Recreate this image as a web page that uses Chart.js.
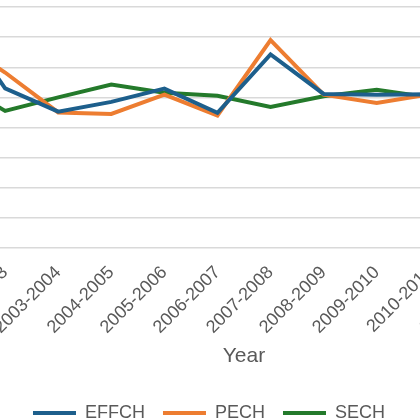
<!DOCTYPE html>
<html>
<head>
<meta charset="utf-8">
<script src="https://cdn.jsdelivr.net/npm/chart.js@4.4.1/dist/chart.umd.min.js"></script>
<style>
    html, body { margin: 0; padding: 0; background: #ffffff; }
    #frame { position: relative; width: 420px; height: 420px; overflow: hidden; }
    #holder { position: absolute; left: -160px; top: 0; width: 733px; height: 432px; }
</style>
</head>
<body>
<div id="frame">
    <div id="holder"><canvas id="malmquist" width="733" height="432"></canvas></div>
</div>
<script>
// Chart data
const years = ['2001-2002', '2002-2003', '2003-2004', '2004-2005', '2005-2006', '2006-2007',
    '2007-2008', '2008-2009', '2009-2010', '2010-2011', '2011-2012', '2012-2013'];
const effch = [1.57, 1.06, 0.905, 0.97, 1.058, 0.898, 1.285, 1.023, 1.018, 1.02, 0.99, 1.00];
const pech = [1.40, 1.165, 0.90, 0.89, 1.018, 0.88, 1.38, 1.018, 0.963, 1.02, 0.98, 1.01];
const sech = [1.12, 0.91, 1.00, 1.085, 1.031, 1.011, 0.936, 1.007, 1.051, 1.00, 1.01, 0.99];

const textGrey = '#595959';
const fontName = "'Liberation Sans', Arial, sans-serif";

function series(label, values, colour) {
    return {
        label: label,
        data: values,
        borderColor: colour,
        backgroundColor: colour,
        borderWidth: 4,
        borderCapStyle: 'round',
        pointRadius: 0,
        pointHoverRadius: 0,
        tension: 0,
        fill: false
    };
}

const ctx = document.getElementById('malmquist').getContext('2d');
new Chart(ctx, {
    type: 'line',
    data: {
        labels: years,
        datasets: [
            series('EFFCH', effch, '#1d5f8c'),
            series('PECH', pech, '#ed7d31'),
            series('SECH', sech, '#247a2b')
        ]
    },
    options: {
        responsive: false,
        animation: false,
        devicePixelRatio: 1,
        layout: { padding: { left: 15.5, right: 10.5, top: 7, bottom: 0 } },
        plugins: {
            tooltip: { enabled: false },
            legend: {
                position: 'bottom',
                labels: {
                    usePointStyle: true,
                    pointStyle: 'line',
                    pointStyleWidth: 43,
                    padding: 18,
                    color: textGrey,
                    font: { family: fontName, size: 18 }
                }
            }
        },
        scales: {
            x: {
                offset: true,
                grid: { display: false, drawTicks: false },
                border: { display: false },
                ticks: {
                    autoSkip: false,
                    minRotation: 45,
                    maxRotation: 45,
                    padding: 14,
                    color: textGrey,
                    font: { family: fontName, size: 18 }
                },
                title: {
                    display: true,
                    text: 'Year',
                    color: textGrey,
                    padding: { top: 0, bottom: 17 },
                    font: { family: fontName, size: 21 }
                },
                afterFit: function (scale) {
                    scale.height = 138;
                }
            },
            y: {
                min: 0,
                max: 1.6,
                grid: { color: '#d9d9d9', lineWidth: 1.5, drawTicks: false },
                border: { display: false },
                ticks: { display: false, stepSize: 0.2 },
                // the value axis sits off the left edge of the picture
                afterFit: function (scale) {
                    scale.width = 70;
                }
            }
        }
    }
});
</script>
</body>
</html>
